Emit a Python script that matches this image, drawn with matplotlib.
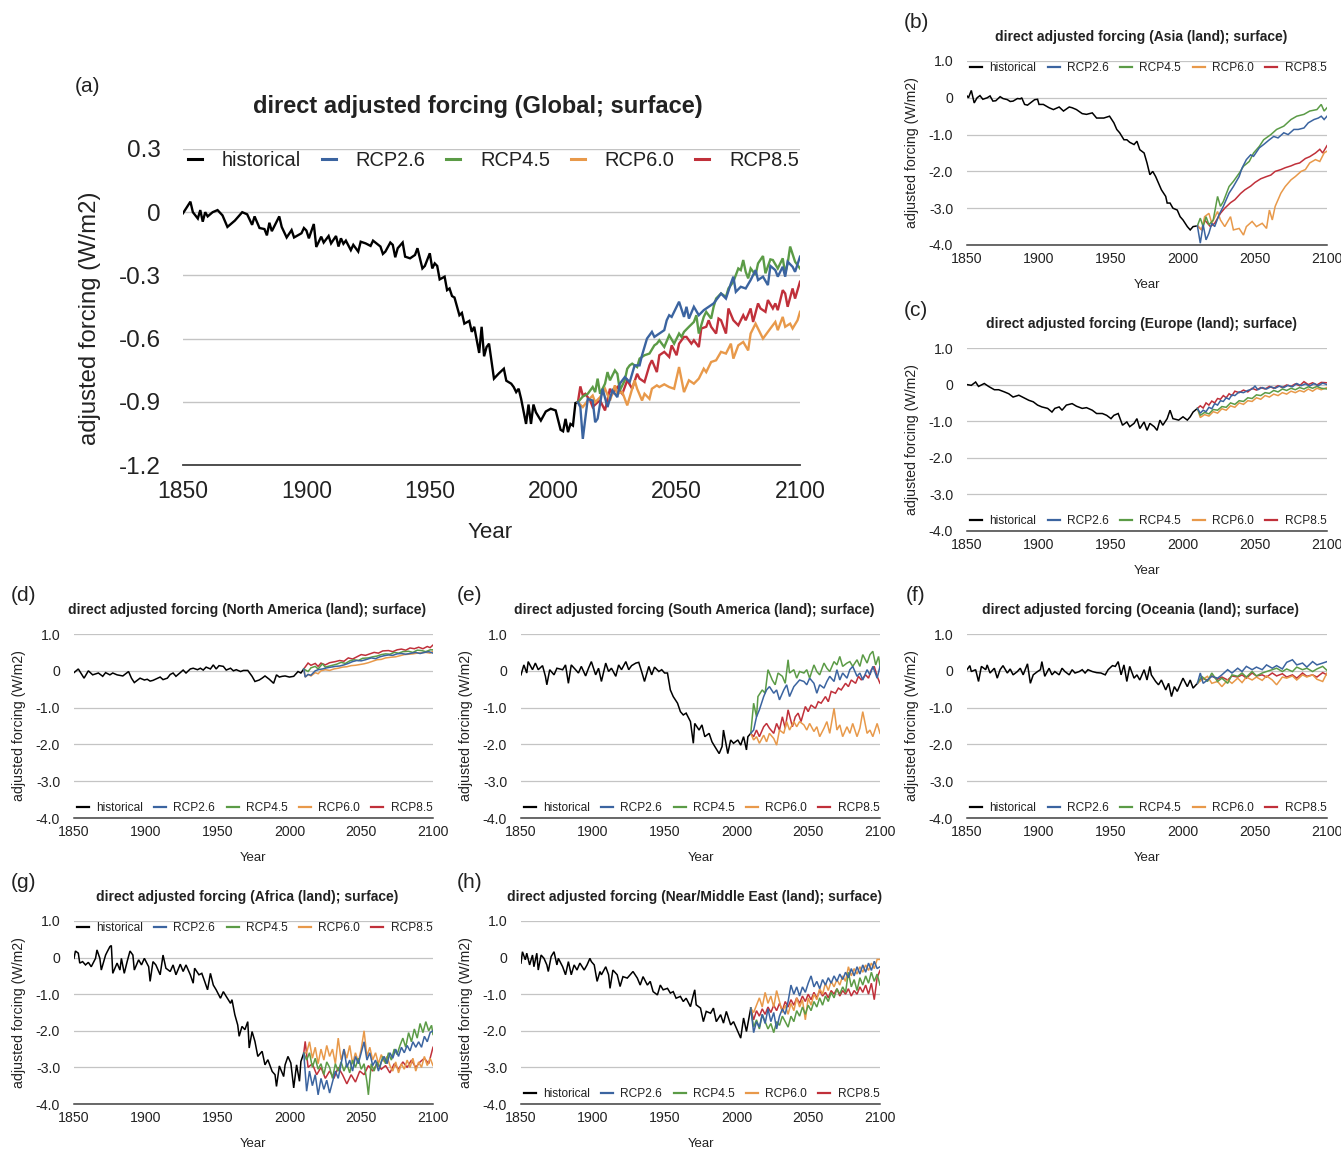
import matplotlib
matplotlib.use("Agg")
import matplotlib.pyplot as plt
from matplotlib.lines import Line2D

plt.rcParams['font.family'] = ['Liberation Sans', 'DejaVu Sans']

# common axis settings
year_ticks = [1850, 1900, 1950, 2000, 2050, 2100]
scenarios = ['historical', 'RCP2.6', 'RCP4.5', 'RCP6.0', 'RCP8.5']
colors = ['#000000', '#3b64a0', '#5b9b46', '#e8994a', '#c0303a']

glob_ticks = [0.3, 0, -0.3, -0.6, -0.9, -1.2]
glob_ticklabels = ['0.3', '0', '-0.3', '-0.6', '-0.9', '-1.2']
land_ticks = [1.0, 0, -1.0, -2.0, -3.0, -4.0]
land_ticklabels = ['1.0', '0', '-1.0', '-2.0', '-3.0', '-4.0']

# ---- (a) Global ----
glob_hist = [(1850, -0.005), (1853, 0.05), (1854, 0.0), (1856, -0.03), (1857, 0.01), (1858, -0.045),
             (1859, 0.0), (1860, -0.02), (1862, 0.0), (1864, 0.01), (1866, -0.015), (1868, -0.07),
             (1871, -0.04), (1874, 0.0), (1876, -0.01), (1878, -0.06), (1879, -0.02), (1881, -0.075),
             (1883, -0.08), (1884, -0.11), (1885, -0.05), (1886, -0.09), (1889, -0.02), (1890, -0.07),
             (1892, -0.12), (1894, -0.085), (1895, -0.12), (1898, -0.10), (1899, -0.075), (1900, -0.087),
             (1901, -0.124), (1903, -0.056), (1904, -0.165), (1906, -0.116), (1907, -0.144), (1909, -0.113),
             (1910, -0.148), (1912, -0.113), (1913, -0.163), (1914, -0.124), (1915, -0.15), (1916, -0.135),
             (1918, -0.18), (1919, -0.155), (1921, -0.187), (1922, -0.14), (1924, -0.148), (1926, -0.16),
             (1927, -0.135), (1930, -0.163), (1931, -0.198), (1932, -0.187), (1934, -0.144), (1935, -0.155),
             (1936, -0.214), (1937, -0.171), (1939, -0.144), (1940, -0.211), (1942, -0.219), (1944, -0.203),
             (1945, -0.171), (1947, -0.267), (1948, -0.255), (1950, -0.195), (1951, -0.267), (1952, -0.243),
             (1953, -0.255), (1954, -0.319), (1956, -0.306), (1957, -0.37), (1958, -0.362), (1959, -0.398),
             (1960, -0.405), (1962, -0.489), (1963, -0.478), (1964, -0.529), (1966, -0.516), (1967, -0.568),
             (1968, -0.544), (1970, -0.668), (1971, -0.544), (1972, -0.684), (1973, -0.64), (1974, -0.624),
             (1976, -0.79), (1978, -0.765), (1980, -0.743), (1981, -0.8), (1983, -0.814), (1984, -0.83),
             (1985, -0.854), (1986, -0.838), (1987, -0.886), (1989, -1.005), (1990, -0.913), (1991, -1.005),
             (1992, -0.913), (1993, -0.95), (1995, -0.989), (1997, -0.946), (1999, -0.933), (2001, -0.941),
             (2003, -1.033), (2004, -1.04), (2005, -0.981), (2006, -1.044), (2007, -1.005), (2008, -1.013),
             (2009, -0.906), (2010, -0.902)]
glob_rcp26 = [(2010, -0.902), (2011, -0.925), (2012, -1.076), (2013, -0.98), (2014, -0.886), (2016, -0.894),
              (2017, -0.997), (2018, -0.98), (2020, -0.838), (2022, -0.925), (2024, -0.846), (2026, -0.878),
              (2027, -0.814), (2029, -0.783), (2031, -0.806), (2033, -0.727), (2035, -0.727), (2036, -0.679),
              (2038, -0.6), (2040, -0.568), (2041, -0.592), (2043, -0.576), (2045, -0.56), (2046, -0.513),
              (2047, -0.489), (2048, -0.497), (2049, -0.473), (2051, -0.425), (2053, -0.497), (2054, -0.449),
              (2055, -0.505), (2057, -0.449), (2059, -0.489), (2061, -0.465), (2063, -0.449), (2065, -0.433),
              (2067, -0.402), (2068, -0.386), (2070, -0.41), (2072, -0.338), (2073, -0.306), (2074, -0.378),
              (2076, -0.354), (2078, -0.362), (2080, -0.322), (2082, -0.275), (2083, -0.322), (2085, -0.306),
              (2087, -0.346), (2088, -0.255), (2090, -0.275), (2091, -0.306), (2093, -0.259), (2094, -0.306),
              (2095, -0.235), (2097, -0.259), (2098, -0.283), (2100, -0.211)]
glob_rcp45 = [(2010, -0.902), (2012, -0.875), (2014, -0.862), (2016, -0.83), (2017, -0.854), (2018, -0.79),
              (2019, -0.862), (2021, -0.814), (2022, -0.759), (2023, -0.798), (2025, -0.751), (2026, -0.767),
              (2027, -0.846), (2029, -0.798), (2030, -0.743), (2031, -0.727), (2032, -0.719), (2034, -0.735),
              (2035, -0.695), (2037, -0.679), (2039, -0.671), (2041, -0.632), (2042, -0.624), (2043, -0.608),
              (2045, -0.64), (2047, -0.584), (2049, -0.624), (2051, -0.576), (2052, -0.592), (2053, -0.568),
              (2055, -0.544), (2057, -0.521), (2058, -0.489), (2059, -0.576), (2061, -0.497), (2062, -0.473),
              (2064, -0.505), (2065, -0.449), (2066, -0.41), (2068, -0.386), (2070, -0.402), (2071, -0.362),
              (2073, -0.33), (2075, -0.267), (2076, -0.275), (2077, -0.227), (2078, -0.283), (2079, -0.314),
              (2080, -0.267), (2082, -0.298), (2083, -0.243), (2085, -0.208), (2086, -0.29), (2088, -0.224),
              (2089, -0.227), (2091, -0.267), (2093, -0.219), (2094, -0.29), (2095, -0.243), (2096, -0.163),
              (2098, -0.235), (2100, -0.267)]
glob_rcp60 = [(2010, -0.902), (2012, -0.925), (2014, -0.894), (2016, -0.87), (2017, -0.902), (2019, -0.878),
              (2021, -0.838), (2023, -0.894), (2025, -0.822), (2026, -0.862), (2028, -0.854), (2030, -0.917),
              (2031, -0.878), (2033, -0.798), (2034, -0.838), (2036, -0.894), (2037, -0.862), (2039, -0.886),
              (2040, -0.838), (2042, -0.822), (2043, -0.83), (2045, -0.817), (2047, -0.83), (2049, -0.838),
              (2051, -0.735), (2053, -0.854), (2055, -0.798), (2057, -0.814), (2059, -0.79), (2061, -0.743),
              (2062, -0.759), (2064, -0.711), (2066, -0.703), (2068, -0.663), (2070, -0.671), (2072, -0.624),
              (2073, -0.695), (2075, -0.632), (2077, -0.616), (2079, -0.656), (2080, -0.576), (2082, -0.529),
              (2085, -0.6), (2087, -0.568), (2088, -0.552), (2090, -0.521), (2091, -0.56), (2093, -0.497),
              (2094, -0.544), (2096, -0.529), (2097, -0.552), (2099, -0.513), (2100, -0.473)]
glob_rcp85 = [(2010, -0.902), (2011, -0.827), (2012, -0.87), (2013, -0.862), (2015, -0.894), (2016, -0.925),
              (2018, -0.902), (2019, -0.894), (2021, -0.941), (2023, -0.838), (2024, -0.862), (2026, -0.83),
              (2028, -0.862), (2030, -0.798), (2032, -0.838), (2034, -0.767), (2035, -0.79), (2037, -0.806),
              (2039, -0.727), (2040, -0.703), (2042, -0.759), (2043, -0.679), (2045, -0.663), (2047, -0.687),
              (2048, -0.632), (2050, -0.679), (2051, -0.624), (2053, -0.592), (2054, -0.592), (2056, -0.624),
              (2057, -0.608), (2059, -0.64), (2060, -0.552), (2062, -0.544), (2063, -0.513), (2064, -0.544),
              (2066, -0.576), (2067, -0.505), (2068, -0.513), (2070, -0.576), (2071, -0.457), (2073, -0.513),
              (2075, -0.537), (2077, -0.489), (2078, -0.513), (2080, -0.457), (2081, -0.521), (2083, -0.433),
              (2084, -0.457), (2086, -0.473), (2087, -0.417), (2089, -0.457), (2090, -0.433), (2091, -0.465),
              (2093, -0.37), (2094, -0.386), (2095, -0.449), (2097, -0.362), (2098, -0.41), (2100, -0.33)]

# ---- (b) Asia ----
asia_hist = [(1850, 0.05), (1851, 0.0), (1853, 0.2), (1855, -0.14), (1857, 0.0), (1859, 0.06), (1861, -0.04),
             (1864, 0.0), (1866, 0.05), (1868, -0.09), (1870, -0.08), (1873, 0.03), (1875, -0.02), (1878, -0.05),
             (1880, -0.1), (1882, -0.09), (1885, -0.02), (1887, -0.03), (1888, 0.0), (1890, -0.18), (1892, -0.2),
             (1894, -0.14), (1897, -0.05), (1899, -0.04), (1900, -0.18), (1903, -0.18), (1907, -0.27),
             (1910, -0.32), (1914, -0.25), (1917, -0.36), (1921, -0.25), (1923, -0.27), (1926, -0.32),
             (1930, -0.43), (1933, -0.45), (1937, -0.41), (1940, -0.55), (1945, -0.55), (1949, -0.5),
             (1952, -0.68), (1954, -0.86), (1956, -0.95), (1959, -1.14), (1961, -1.14), (1963, -1.21),
             (1966, -1.27), (1968, -1.18), (1970, -1.41), (1973, -1.5), (1975, -1.77), (1977, -2.09),
             (1979, -2.0), (1981, -2.14), (1983, -2.32), (1985, -2.5), (1988, -2.68), (1989, -2.86),
             (1991, -2.86), (1993, -3.0), (1996, -3.05), (1998, -3.23), (2000, -3.32), (2003, -3.5),
             (2005, -3.59), (2007, -3.5), (2010, -3.48)]
asia_rcp26 = [(2010, -3.48), (2012, -3.95), (2014, -3.45), (2016, -3.86), (2018, -3.68), (2020, -3.41),
              (2022, -3.5), (2025, -3.18), (2028, -2.95), (2032, -2.59), (2035, -2.41), (2039, -2.14),
              (2041, -1.91), (2044, -1.68), (2047, -1.55), (2049, -1.59), (2053, -1.36), (2056, -1.27),
              (2060, -1.14), (2063, -1.05), (2066, -1.09), (2070, -0.95), (2073, -1.0), (2077, -0.86),
              (2080, -0.86), (2084, -0.82), (2087, -0.68), (2091, -0.59), (2094, -0.55), (2096, -0.5),
              (2098, -0.59), (2100, -0.5)]
asia_rcp45 = [(2010, -3.48), (2012, -3.27), (2014, -3.5), (2016, -3.23), (2018, -3.45), (2021, -3.32),
              (2024, -2.68), (2026, -2.95), (2028, -2.82), (2032, -2.41), (2035, -2.27), (2039, -2.05),
              (2042, -1.86), (2046, -1.73), (2049, -1.5), (2053, -1.32), (2056, -1.14), (2061, -1.0),
              (2065, -0.86), (2070, -0.77), (2075, -0.59), (2079, -0.5), (2084, -0.45), (2088, -0.36),
              (2093, -0.32), (2096, -0.18), (2098, -0.36), (2100, -0.27)]
asia_rcp60 = [(2010, -3.48), (2013, -3.59), (2015, -3.23), (2018, -3.14), (2020, -3.41), (2024, -3.09),
              (2026, -3.32), (2029, -3.5), (2033, -3.23), (2035, -3.59), (2039, -3.55), (2042, -3.73),
              (2044, -3.5), (2048, -3.36), (2051, -3.5), (2055, -3.41), (2058, -3.55), (2060, -3.05),
              (2062, -3.32), (2064, -2.95), (2068, -2.59), (2071, -2.41), (2075, -2.23), (2078, -2.14),
              (2082, -2.0), (2085, -1.95), (2088, -1.77), (2092, -1.68), (2095, -1.73), (2098, -1.5),
              (2100, -1.45)]
asia_rcp85 = [(2010, -3.48), (2013, -3.59), (2015, -3.32), (2019, -3.5), (2022, -3.41), (2026, -3.14),
              (2029, -3.0), (2033, -2.85), (2036, -2.77), (2040, -2.6), (2043, -2.5), (2047, -2.4),
              (2050, -2.3), (2054, -2.2), (2058, -2.14), (2061, -2.1), (2064, -2.0), (2068, -1.95),
              (2071, -1.9), (2075, -1.85), (2078, -1.8), (2081, -1.77), (2085, -1.65), (2088, -1.6),
              (2092, -1.5), (2095, -1.4), (2097, -1.5), (2100, -1.3)]

# ---- (c) Europe ----
eur_hist = [(1850, 0.0), (1853, -0.02), (1856, 0.07), (1858, -0.05), (1862, 0.03), (1865, -0.05),
            (1869, -0.14), (1872, -0.14), (1876, -0.2), (1879, -0.25), (1882, -0.34), (1886, -0.29),
            (1889, -0.35), (1893, -0.43), (1896, -0.47), (1899, -0.56), (1902, -0.61), (1906, -0.65),
            (1909, -0.75), (1911, -0.65), (1914, -0.61), (1916, -0.7), (1919, -0.56), (1923, -0.52),
            (1926, -0.59), (1930, -0.65), (1933, -0.63), (1937, -0.7), (1940, -0.79), (1944, -0.79),
            (1947, -0.84), (1950, -0.93), (1952, -0.84), (1955, -0.79), (1958, -1.11), (1961, -1.02),
            (1963, -1.15), (1966, -1.06), (1968, -0.93), (1970, -1.2), (1973, -1.02), (1975, -1.25),
            (1977, -1.06), (1980, -1.15), (1982, -1.25), (1984, -0.97), (1986, -1.11), (1989, -0.93),
            (1991, -0.7), (1993, -0.93), (1997, -0.97), (2000, -0.88), (2003, -0.97), (2005, -0.88),
            (2007, -0.75), (2010, -0.65)]
eur_rcp26 = [(2010, -0.65), (2012, -0.78), (2014, -0.70), (2016, -0.74), (2018, -0.62), (2020, -0.66),
             (2022, -0.52), (2024, -0.56), (2026, -0.44), (2028, -0.46), (2030, -0.36), (2032, -0.40),
             (2034, -0.28), (2036, -0.30), (2039, -0.20), (2042, -0.22), (2045, -0.16), (2048, -0.12),
             (2050, -0.04), (2052, -0.14), (2055, -0.08), (2058, -0.12), (2061, -0.06), (2064, -0.10),
             (2067, -0.04), (2070, -0.08), (2073, -0.02), (2076, -0.06), (2079, 0.03), (2082, -0.03),
             (2085, 0.02), (2088, -0.04), (2091, 0.03), (2094, -0.03), (2097, 0.04), (2100, 0.0)]
eur_rcp45 = [(2010, -0.65), (2012, -0.84), (2015, -0.76), (2018, -0.80), (2021, -0.68), (2024, -0.70),
             (2027, -0.60), (2030, -0.62), (2033, -0.50), (2036, -0.54), (2039, -0.44), (2042, -0.46),
             (2045, -0.36), (2048, -0.38), (2051, -0.28), (2054, -0.30), (2057, -0.22), (2060, -0.24),
             (2063, -0.16), (2066, -0.20), (2069, -0.12), (2072, -0.16), (2075, -0.10), (2078, -0.14),
             (2081, -0.08), (2084, -0.12), (2087, -0.06), (2090, -0.10), (2093, -0.05), (2096, -0.10),
             (2100, -0.12)]
eur_rcp60 = [(2010, -0.65), (2012, -0.90), (2015, -0.82), (2018, -0.86), (2021, -0.74), (2024, -0.78),
             (2027, -0.66), (2030, -0.70), (2033, -0.58), (2036, -0.62), (2039, -0.50), (2042, -0.54),
             (2045, -0.44), (2048, -0.46), (2051, -0.36), (2054, -0.40), (2057, -0.30), (2060, -0.34),
             (2063, -0.26), (2066, -0.30), (2069, -0.22), (2072, -0.26), (2075, -0.18), (2078, -0.22),
             (2081, -0.16), (2084, -0.20), (2087, -0.12), (2090, -0.18), (2093, -0.10), (2096, -0.14),
             (2100, -0.08)]
eur_rcp85 = [(2010, -0.65), (2012, -0.58), (2014, -0.64), (2016, -0.50), (2018, -0.56), (2020, -0.45),
             (2022, -0.50), (2024, -0.38), (2026, -0.40), (2028, -0.30), (2030, -0.36), (2032, -0.25),
             (2034, -0.30), (2036, -0.18), (2039, -0.22), (2042, -0.15), (2045, -0.20), (2048, -0.10),
             (2051, -0.15), (2054, -0.08), (2057, -0.12), (2060, -0.05), (2063, -0.10), (2066, -0.03),
             (2069, -0.08), (2072, -0.01), (2075, -0.05), (2078, 0.02), (2081, -0.03), (2084, 0.08),
             (2087, 0.0), (2090, 0.05), (2093, -0.01), (2096, 0.06), (2100, 0.05)]

# ---- (d) North America ----
nam_hist = [(1850, -0.05), (1853, 0.05), (1857, -0.2), (1860, 0.0), (1863, -0.11), (1867, -0.06),
            (1870, -0.15), (1872, -0.05), (1875, -0.11), (1877, -0.06), (1880, -0.11), (1884, -0.14),
            (1888, -0.02), (1890, -0.2), (1892, -0.32), (1896, -0.2), (1899, -0.25), (1901, -0.23),
            (1903, -0.28), (1905, -0.26), (1910, -0.17), (1912, -0.24), (1915, -0.2), (1917, -0.1),
            (1919, -0.06), (1921, -0.15), (1924, -0.05), (1926, 0.02), (1928, -0.06), (1931, 0.05),
            (1933, 0.07), (1936, 0.03), (1938, 0.07), (1940, 0.02), (1942, 0.1), (1945, 0.05),
            (1947, 0.16), (1949, 0.05), (1951, 0.14), (1954, 0.12), (1956, 0.02), (1959, 0.07),
            (1961, 0.0), (1963, 0.03), (1966, -0.02), (1968, 0.01), (1971, 0.01), (1974, -0.15),
            (1976, -0.29), (1979, -0.25), (1981, -0.2), (1983, -0.14), (1986, -0.23), (1989, -0.34),
            (1991, -0.11), (1993, -0.17), (1995, -0.15), (1997, -0.14), (2000, -0.17), (2003, -0.15),
            (2006, -0.02), (2008, -0.06), (2010, 0.05)]
nam_rcp26 = [(2010, 0.05), (2011, -0.17), (2013, -0.1), (2015, -0.12), (2018, 0.0), (2020, 0.03),
             (2023, 0.05), (2026, 0.08), (2029, 0.1), (2032, 0.12), (2035, 0.13), (2038, 0.16),
             (2041, 0.2), (2044, 0.25), (2047, 0.28), (2050, 0.27), (2053, 0.3), (2057, 0.35),
             (2060, 0.33), (2063, 0.38), (2066, 0.41), (2069, 0.43), (2072, 0.42), (2075, 0.46),
             (2078, 0.47), (2081, 0.45), (2085, 0.48), (2088, 0.5), (2091, 0.47), (2094, 0.5),
             (2097, 0.52), (2100, 0.48)]
nam_rcp45 = [(2010, 0.05), (2013, -0.02), (2015, 0.08), (2018, 0.12), (2020, 0.05), (2023, 0.19),
             (2025, 0.1), (2027, 0.12), (2030, 0.15), (2033, 0.18), (2036, 0.23), (2039, 0.2),
             (2042, 0.27), (2045, 0.3), (2048, 0.28), (2051, 0.34), (2055, 0.35), (2058, 0.38),
             (2061, 0.4), (2064, 0.44), (2067, 0.46), (2070, 0.45), (2073, 0.5), (2076, 0.48),
             (2079, 0.52), (2083, 0.53), (2086, 0.5), (2089, 0.56), (2092, 0.55), (2095, 0.52),
             (2098, 0.57), (2100, 0.57)]
nam_rcp60 = [(2010, 0.05), (2011, -0.17), (2013, -0.1), (2015, -0.14), (2018, -0.05), (2020, -0.08),
             (2022, 0.0), (2025, 0.03), (2028, 0.01), (2031, 0.05), (2034, 0.07), (2037, 0.1),
             (2040, 0.11), (2043, 0.14), (2046, 0.15), (2049, 0.17), (2052, 0.19), (2055, 0.22),
             (2058, 0.26), (2061, 0.3), (2064, 0.31), (2067, 0.35), (2071, 0.37), (2074, 0.38),
             (2077, 0.41), (2080, 0.44), (2083, 0.45), (2086, 0.46), (2089, 0.48), (2092, 0.49),
             (2095, 0.5), (2098, 0.48), (2100, 0.53)]
nam_rcp85 = [(2010, 0.05), (2013, 0.21), (2015, 0.15), (2018, 0.20), (2020, 0.12), (2022, 0.21),
             (2025, 0.16), (2028, 0.22), (2032, 0.25), (2035, 0.28), (2038, 0.26), (2041, 0.35),
             (2044, 0.32), (2047, 0.38), (2050, 0.44), (2053, 0.42), (2056, 0.46), (2059, 0.5),
             (2062, 0.48), (2065, 0.54), (2069, 0.55), (2072, 0.52), (2075, 0.57), (2078, 0.59),
             (2081, 0.56), (2084, 0.62), (2087, 0.6), (2090, 0.64), (2093, 0.6), (2096, 0.66),
             (2098, 0.63), (2100, 0.7)]

# ---- (e) South America ----
sam_hist = [(1850, -0.11), (1852, 0.16), (1854, -0.06), (1855, 0.25), (1858, 0.03), (1860, 0.21),
            (1862, 0.03), (1865, 0.14), (1867, -0.15), (1868, -0.38), (1870, 0.03), (1873, -0.11),
            (1875, 0.07), (1879, 0.03), (1881, 0.16), (1883, -0.34), (1885, 0.16), (1888, 0.03),
            (1890, -0.06), (1892, 0.12), (1895, -0.14), (1897, 0.07), (1899, 0.25), (1902, -0.11),
            (1904, 0.07), (1906, -0.29), (1909, 0.21), (1911, -0.02), (1913, 0.07), (1916, -0.15),
            (1918, 0.16), (1920, 0.03), (1923, 0.25), (1925, 0.03), (1927, 0.14), (1930, 0.21),
            (1932, 0.23), (1934, -0.02), (1936, -0.29), (1939, 0.12), (1941, -0.11), (1943, 0.1),
            (1946, -0.02), (1948, 0.03), (1950, -0.06), (1952, -0.06), (1954, -0.52), (1956, -0.7),
            (1959, -0.88), (1961, -1.11), (1963, -1.2), (1965, -1.15), (1968, -1.38), (1970, -1.97),
            (1971, -1.43), (1974, -1.61), (1976, -1.47), (1978, -1.79), (1981, -1.7), (1983, -1.93),
            (1985, -2.06), (1988, -2.25), (1990, -2.06), (1991, -1.61), (1994, -2.25), (1996, -1.88),
            (1998, -1.97), (2001, -1.88), (2003, -2.02), (2005, -1.79), (2007, -2.15), (2008, -1.79),
            (2010, -1.7)]
sam_rcp26 = [(2010, -1.7), (2012, -1.61), (2014, -1.25), (2016, -1.06), (2019, -0.7), (2021, -0.52),
             (2023, -0.43), (2026, -0.61), (2028, -0.52), (2030, -0.79), (2033, -0.52), (2035, -0.38),
             (2037, -0.7), (2040, -0.43), (2042, -0.34), (2044, -0.25), (2047, -0.29), (2049, -0.38),
             (2051, -0.2), (2054, -0.34), (2056, -0.61), (2058, -0.38), (2061, -0.47), (2063, -0.29),
             (2065, -0.15), (2068, -0.29), (2070, 0.03), (2072, -0.25), (2074, -0.06), (2077, -0.2),
             (2079, 0.03), (2081, 0.12), (2084, -0.15), (2086, -0.06), (2088, -0.25), (2091, 0.03),
             (2093, -0.11), (2095, 0.12), (2098, -0.2), (2100, 0.12)]
sam_rcp45 = [(2010, -1.7), (2012, -0.88), (2014, -1.25), (2015, -0.7), (2018, -0.52), (2020, -0.61),
             (2022, 0.03), (2025, -0.25), (2027, -0.38), (2029, -0.06), (2032, -0.15), (2034, -0.34),
             (2036, 0.3), (2037, -0.06), (2040, 0.03), (2042, -0.2), (2044, -0.02), (2047, -0.06),
             (2049, 0.03), (2051, -0.2), (2054, 0.16), (2056, -0.02), (2058, -0.11), (2061, 0.21),
             (2063, 0.07), (2065, -0.02), (2068, 0.25), (2070, 0.16), (2072, 0.39), (2074, 0.12),
             (2077, 0.21), (2079, 0.25), (2081, 0.12), (2084, 0.3), (2086, 0.12), (2088, 0.44),
             (2091, 0.21), (2093, 0.44), (2095, 0.53), (2097, 0.16), (2099, 0.39), (2100, 0.12)]
sam_rcp60 = [(2010, -1.7), (2012, -1.88), (2014, -1.79), (2016, -1.97), (2019, -1.75), (2021, -1.93),
             (2023, -1.7), (2026, -1.84), (2028, -2.02), (2030, -1.61), (2033, -1.7), (2035, -1.38),
             (2037, -1.61), (2040, -1.38), (2042, -1.52), (2044, -1.38), (2047, -1.47), (2049, -1.61),
             (2051, -1.43), (2054, -1.65), (2056, -1.52), (2058, -1.79), (2061, -1.56), (2063, -1.38),
             (2065, -1.7), (2068, -1.02), (2070, -1.61), (2072, -1.47), (2074, -1.79), (2077, -1.52),
             (2079, -1.7), (2081, -1.43), (2084, -1.79), (2086, -1.56), (2088, -1.11), (2091, -1.7),
             (2093, -1.61), (2095, -1.79), (2098, -1.43), (2100, -1.7)]
sam_rcp85 = [(2010, -1.7), (2012, -1.79), (2014, -1.61), (2016, -1.79), (2019, -1.52), (2021, -1.43),
             (2023, -1.56), (2026, -1.7), (2028, -1.43), (2030, -1.61), (2032, -1.25), (2034, -1.56),
             (2036, -1.06), (2039, -1.52), (2041, -1.25), (2043, -1.15), (2045, -1.38), (2048, -0.97),
             (2050, -1.11), (2052, -0.93), (2055, -1.02), (2057, -0.84), (2059, -0.88), (2062, -0.7),
             (2064, -0.84), (2066, -0.56), (2069, -0.61), (2071, -0.47), (2073, -0.52), (2076, -0.34),
             (2078, -0.43), (2080, -0.25), (2083, -0.34), (2085, -0.15), (2087, -0.25), (2090, -0.11),
             (2092, -0.2), (2094, 0.03), (2096, 0.12), (2098, -0.15), (2100, -0.34)]

# ---- (f) Oceania ----
oce_hist = [(1850, 0.03), (1852, 0.14), (1853, -0.02), (1856, 0.03), (1858, -0.29), (1860, 0.12),
            (1863, 0.03), (1864, 0.16), (1866, -0.06), (1869, 0.07), (1871, -0.2), (1873, 0.03),
            (1875, 0.14), (1878, -0.06), (1880, 0.05), (1882, -0.11), (1885, -0.02), (1887, 0.07),
            (1889, -0.11), (1892, 0.19), (1894, -0.34), (1896, -0.11), (1899, -0.02), (1901, 0.03),
            (1902, 0.25), (1904, -0.15), (1907, 0.07), (1909, -0.11), (1911, -0.02), (1914, -0.11),
            (1916, 0.07), (1918, -0.02), (1921, -0.11), (1923, 0.03), (1925, -0.06), (1928, -0.02),
            (1930, 0.03), (1932, -0.06), (1934, 0.03), (1937, -0.02), (1940, -0.05), (1943, -0.06),
            (1946, -0.11), (1948, 0.03), (1951, 0.14), (1953, 0.12), (1955, 0.25), (1957, -0.11),
            (1959, 0.16), (1961, -0.29), (1963, 0.12), (1966, -0.2), (1968, -0.11), (1970, -0.25),
            (1973, 0.03), (1975, -0.25), (1977, 0.12), (1978, -0.11), (1981, -0.29), (1983, -0.38),
            (1985, -0.25), (1988, -0.52), (1990, -0.34), (1992, -0.7), (1994, -0.43), (1996, -0.56),
            (1998, -0.38), (2000, -0.2), (2003, -0.43), (2005, -0.25), (2007, -0.47), (2010, -0.34)]
oce_rcp26 = [(2010, -0.34), (2012, -0.06), (2014, -0.34), (2017, -0.25), (2020, -0.15), (2024, -0.2),
             (2027, -0.11), (2031, 0.03), (2034, -0.06), (2038, 0.07), (2041, -0.02), (2044, 0.12),
             (2048, 0.03), (2051, 0.1), (2055, 0.03), (2058, 0.16), (2062, 0.07), (2065, 0.14),
             (2069, 0.05), (2072, 0.23), (2076, 0.3), (2079, 0.16), (2083, 0.21), (2086, 0.1),
             (2090, 0.25), (2093, 0.16), (2097, 0.21), (2100, 0.25)]
oce_rcp45 = [(2010, -0.34), (2013, -0.15), (2017, -0.29), (2020, -0.06), (2024, -0.29), (2027, -0.2),
             (2031, -0.34), (2034, -0.11), (2038, -0.15), (2041, -0.06), (2044, -0.17), (2048, -0.02),
             (2051, -0.14), (2055, -0.06), (2058, -0.02), (2062, 0.03), (2065, 0.07), (2069, -0.02),
             (2072, 0.05), (2076, -0.02), (2079, 0.1), (2083, 0.03), (2086, 0.07), (2090, -0.02),
             (2093, 0.05), (2097, 0.12), (2100, 0.01)]
oce_rcp60 = [(2010, -0.34), (2013, -0.25), (2017, -0.15), (2020, -0.34), (2024, -0.29), (2027, -0.43),
             (2031, -0.25), (2034, -0.34), (2038, -0.2), (2041, -0.32), (2044, -0.17), (2048, -0.25),
             (2051, -0.17), (2055, -0.26), (2058, -0.14), (2062, -0.25), (2065, -0.38), (2069, -0.17),
             (2072, -0.2), (2076, -0.14), (2079, -0.25), (2083, -0.11), (2086, -0.17), (2090, -0.11),
             (2093, -0.23), (2097, -0.29), (2100, -0.06)]
oce_rcp85 = [(2010, -0.34), (2013, -0.2), (2017, -0.25), (2020, -0.14), (2024, -0.23), (2027, -0.17),
             (2031, -0.25), (2034, -0.14), (2038, -0.17), (2041, -0.11), (2044, -0.2), (2048, -0.06),
             (2051, -0.14), (2055, -0.11), (2058, -0.17), (2062, -0.06), (2065, -0.14), (2069, -0.08),
             (2072, -0.17), (2076, -0.11), (2079, -0.2), (2083, -0.06), (2086, -0.15), (2090, -0.11),
             (2093, -0.17), (2097, -0.05), (2100, -0.11)]

# ---- (g) Africa ----
afr_hist = [(1850, -0.02), (1851, 0.18), (1853, 0.12), (1854, -0.15), (1856, -0.11), (1858, -0.2),
            (1860, -0.13), (1862, -0.25), (1865, -0.02), (1866, 0.21), (1868, -0.02), (1869, -0.34),
            (1872, 0.07), (1873, 0.15), (1875, 0.3), (1876, 0.33), (1877, -0.43), (1880, -0.15),
            (1882, -0.34), (1883, -0.02), (1885, -0.43), (1887, -0.11), (1889, 0.18), (1891, 0.07),
            (1892, -0.34), (1895, -0.06), (1897, -0.2), (1899, -0.02), (1902, -0.25), (1903, -0.65),
            (1905, -0.11), (1907, -0.2), (1910, -0.47), (1912, 0.07), (1914, -0.29), (1917, -0.38),
            (1919, -0.2), (1921, -0.47), (1924, -0.18), (1926, -0.38), (1928, -0.2), (1931, -0.47),
            (1933, -0.7), (1934, -0.29), (1937, -0.47), (1939, -0.43), (1941, -0.65), (1943, -0.88),
            (1945, -0.43), (1947, -0.75), (1949, -0.88), (1952, -1.11), (1954, -0.93), (1956, -1.06),
            (1959, -1.25), (1960, -1.15), (1962, -1.56), (1964, -1.84), (1965, -2.15), (1967, -1.88),
            (1969, -1.97), (1971, -1.75), (1972, -2.47), (1974, -2.02), (1976, -2.29), (1978, -2.7),
            (1981, -2.56), (1983, -2.93), (1985, -2.79), (1988, -3.11), (1990, -3.2), (1991, -3.52),
            (1993, -2.96), (1996, -3.25), (1997, -2.93), (1999, -2.7), (2001, -2.88), (2003, -3.56),
            (2005, -2.93), (2007, -3.38), (2008, -2.84), (2010, -2.61)]
afr_rcp26 = [(2010, -2.61), (2012, -3.65), (2014, -3.1), (2016, -3.5), (2018, -3.2), (2020, -3.75),
             (2022, -3.3), (2024, -3.6), (2026, -3.35), (2028, -3.7), (2030, -3.4), (2032, -3.1),
             (2034, -3.3), (2036, -2.9), (2038, -2.5), (2040, -3.0), (2042, -2.8), (2044, -3.1),
             (2046, -2.7), (2048, -2.9), (2050, -2.6), (2052, -2.3), (2054, -2.8), (2056, -2.6),
             (2058, -2.95), (2060, -2.8), (2062, -3.1), (2064, -2.85), (2066, -2.7), (2068, -2.9),
             (2070, -2.6), (2072, -2.75), (2074, -2.5), (2076, -2.7), (2078, -2.45), (2080, -2.6),
             (2082, -2.4), (2084, -2.55), (2086, -2.3), (2088, -2.45), (2090, -2.3), (2092, -2.45),
             (2094, -2.15), (2096, -2.3), (2098, -2.05), (2100, -2.0)]
afr_rcp45 = [(2010, -2.61), (2012, -2.8), (2014, -2.6), (2016, -3.0), (2018, -2.75), (2020, -3.05),
             (2022, -2.9), (2024, -3.2), (2026, -2.85), (2028, -3.0), (2030, -3.3), (2032, -2.9),
             (2034, -3.1), (2036, -2.85), (2038, -3.1), (2040, -2.9), (2042, -3.15), (2044, -2.8),
             (2046, -3.0), (2048, -2.75), (2050, -3.05), (2052, -2.9), (2054, -3.4), (2055, -3.75),
             (2057, -2.9), (2059, -3.1), (2061, -2.85), (2063, -3.0), (2065, -2.7), (2067, -2.9),
             (2069, -2.6), (2071, -2.8), (2073, -2.5), (2075, -2.65), (2077, -2.4), (2079, -2.2),
             (2081, -2.45), (2083, -2.05), (2085, -2.3), (2087, -1.95), (2089, -2.2), (2091, -1.8),
             (2093, -2.05), (2095, -1.75), (2097, -2.0), (2099, -1.85), (2100, -2.1)]
afr_rcp60 = [(2010, -2.61), (2012, -2.6), (2014, -2.3), (2016, -2.75), (2018, -2.45), (2020, -2.9),
             (2022, -2.5), (2024, -2.8), (2026, -2.4), (2028, -2.7), (2030, -2.5), (2032, -2.9),
             (2034, -2.2), (2036, -2.8), (2038, -2.5), (2040, -2.75), (2042, -2.4), (2044, -2.9),
             (2046, -2.6), (2048, -2.85), (2050, -2.5), (2052, -2.0), (2054, -2.7), (2056, -2.45),
             (2058, -2.8), (2060, -2.6), (2062, -2.9), (2064, -2.65), (2066, -2.85), (2068, -2.7),
             (2070, -2.95), (2072, -3.1), (2074, -2.85), (2076, -3.15), (2078, -2.9), (2080, -3.05),
             (2082, -2.8), (2084, -3.0), (2086, -2.75), (2088, -3.1), (2090, -2.85), (2092, -3.0),
             (2094, -2.7), (2096, -2.95), (2098, -2.75), (2100, -2.95)]
afr_rcp85 = [(2010, -2.61), (2011, -2.29), (2013, -3.0), (2016, -2.9), (2019, -3.2), (2022, -3.0),
             (2025, -3.3), (2028, -3.1), (2031, -3.3), (2034, -3.0), (2037, -3.2), (2040, -3.45),
             (2043, -3.2), (2046, -3.4), (2049, -3.1), (2052, -3.2), (2055, -2.95), (2058, -3.1),
             (2061, -2.9), (2064, -3.05), (2067, -2.95), (2070, -3.15), (2073, -2.9), (2076, -3.05),
             (2079, -2.85), (2082, -3.0), (2085, -2.8), (2088, -3.0), (2091, -2.85), (2094, -2.75),
             (2097, -2.9), (2100, -2.45)]

# ---- (h) Near/Middle East ----
nme_hist = [(1850, -0.15), (1851, 0.16), (1853, -0.06), (1854, 0.12), (1856, -0.2), (1858, 0.07),
            (1859, -0.25), (1861, 0.12), (1862, -0.34), (1864, 0.07), (1866, -0.02), (1868, -0.2),
            (1869, -0.38), (1871, 0.03), (1873, 0.16), (1875, -0.2), (1876, -0.02), (1879, -0.25),
            (1881, -0.47), (1883, -0.11), (1885, -0.47), (1887, -0.2), (1889, -0.34), (1891, -0.15),
            (1894, -0.34), (1896, -0.2), (1898, -0.02), (1899, -0.11), (1901, -0.2), (1903, -0.65),
            (1905, -0.38), (1906, -0.47), (1909, -0.25), (1911, -0.47), (1912, -0.84), (1914, -0.34),
            (1917, -0.47), (1919, -0.79), (1921, -0.52), (1924, -0.56), (1926, -0.47), (1928, -0.38),
            (1931, -0.56), (1933, -0.75), (1935, -0.52), (1938, -0.75), (1940, -0.65), (1942, -0.93),
            (1945, -1.02), (1947, -0.75), (1949, -0.88), (1952, -0.84), (1954, -0.97), (1956, -0.93),
            (1958, -1.11), (1961, -1.06), (1963, -1.2), (1965, -1.11), (1968, -1.34), (1970, -1.02),
            (1971, -0.88), (1972, -1.29), (1975, -1.38), (1977, -1.75), (1979, -1.47), (1982, -1.52),
            (1984, -1.38), (1986, -1.75), (1989, -1.56), (1991, -1.79), (1993, -1.47), (1996, -1.84),
            (1998, -1.75), (2000, -1.93), (2003, -2.2), (2005, -1.65), (2007, -2.02), (2010, -1.38)]
nme_rcp26 = [(2010, -1.38), (2012, -2.05), (2014, -1.75), (2016, -1.9), (2018, -1.55), (2020, -1.8),
             (2022, -1.4), (2024, -1.75), (2026, -1.5), (2028, -1.95), (2030, -1.6), (2032, -1.4),
             (2034, -1.55), (2036, -1.2), (2038, -0.75), (2040, -1.0), (2042, -0.8), (2044, -1.05),
             (2046, -0.8), (2048, -0.95), (2050, -0.7), (2052, -0.5), (2054, -0.8), (2056, -0.65),
             (2058, -0.85), (2060, -0.6), (2062, -0.75), (2064, -0.55), (2066, -0.7), (2068, -0.5),
             (2070, -0.65), (2072, -0.45), (2074, -0.6), (2076, -0.4), (2078, -0.55), (2080, -0.3),
             (2082, -0.5), (2084, -0.25), (2086, -0.45), (2088, -0.2), (2090, -0.4), (2092, -0.15),
             (2094, -0.35), (2096, -0.1), (2098, -0.3), (2100, -0.25)]
nme_rcp45 = [(2010, -1.38), (2012, -1.9), (2014, -1.7), (2016, -1.95), (2018, -1.55), (2020, -1.75),
             (2022, -1.95), (2024, -1.8), (2026, -2.05), (2028, -1.75), (2030, -1.85), (2032, -1.6),
             (2034, -1.75), (2036, -1.9), (2038, -1.6), (2040, -1.75), (2042, -1.45), (2044, -1.6),
             (2046, -1.35), (2048, -1.55), (2050, -1.3), (2052, -1.45), (2054, -1.2), (2056, -1.35),
             (2058, -1.1), (2060, -1.3), (2062, -1.05), (2064, -1.2), (2066, -0.95), (2068, -1.1),
             (2070, -0.85), (2072, -1.0), (2074, -0.8), (2076, -0.95), (2078, -0.4), (2080, -0.8),
             (2082, -0.6), (2084, -0.9), (2086, -0.55), (2088, -0.75), (2090, -0.5), (2092, -0.7),
             (2094, -0.4), (2096, -0.65), (2098, -0.45), (2100, -0.75)]
nme_rcp60 = [(2010, -1.38), (2012, -1.5), (2014, -1.3), (2016, -1.1), (2018, -1.35), (2020, -0.95),
             (2022, -1.25), (2024, -1.05), (2026, -1.35), (2028, -0.9), (2030, -1.2), (2032, -1.5),
             (2034, -1.3), (2036, -1.55), (2038, -1.25), (2040, -1.45), (2042, -1.1), (2044, -1.35),
             (2046, -1.15), (2048, -1.7), (2050, -1.1), (2052, -1.3), (2054, -1.0), (2056, -1.15),
             (2058, -0.85), (2060, -1.0), (2062, -0.7), (2064, -0.9), (2066, -0.65), (2068, -0.8),
             (2070, -0.6), (2072, -0.75), (2074, -0.5), (2076, -0.65), (2078, -0.25), (2080, -0.5),
             (2082, -0.3), (2084, -0.45), (2086, -0.25), (2088, -0.4), (2090, -0.2), (2092, -0.35),
             (2094, -0.15), (2096, -0.3), (2098, -0.05), (2100, -0.05)]
nme_rcp85 = [(2010, -1.38), (2012, -1.7), (2014, -1.45), (2016, -1.6), (2018, -1.4), (2020, -1.55),
             (2022, -1.35), (2024, -1.5), (2026, -1.3), (2028, -1.45), (2030, -1.25), (2032, -1.45),
             (2034, -1.2), (2036, -1.35), (2038, -1.15), (2040, -1.3), (2042, -1.1), (2044, -1.25),
             (2046, -1.05), (2048, -1.2), (2050, -1.0), (2052, -1.15), (2054, -0.95), (2056, -1.1),
             (2058, -0.9), (2060, -1.05), (2062, -0.95), (2064, -1.1), (2066, -0.9), (2068, -1.0),
             (2070, -0.85), (2072, -1.05), (2074, -0.9), (2076, -1.0), (2078, -0.85), (2080, -1.05),
             (2082, -0.9), (2084, -1.0), (2086, -0.8), (2088, -0.95), (2090, -0.75), (2092, -1.0),
             (2094, -0.7), (2096, -1.15), (2098, -0.55), (2100, -0.35)]

W, H = 1341, 1151
fig = plt.figure(figsize=(W / 100, H / 100), dpi=100)


def add_ax(left, top, right, bottom):
    # axes placed by pixel edges
    return fig.add_axes([left / W, 1 - bottom / H, (right - left) / W, (bottom - top) / H])


def put(x, y, s, **kw):
    fig.text(x / W, 1 - y / H, s, ha='center', va='center', **kw)


def draw(ax, series, ticks, ticklabels, big, legend_y):
    lw = 1.7 if big else 1.1
    order = [1, 5, 4, 3, 2]
    for (pts, col, z) in zip(series, colors, order):
        xs, ys = zip(*pts)
        ax.plot(xs, ys, color=col, lw=lw, zorder=z, solid_joinstyle='miter')
    ax.set_xlim(1850, 2100)
    ax.set_ylim(ticks[-1], ticks[0])
    ax.set_xticks(year_ticks)
    ax.set_xticklabels([str(y) for y in year_ticks])
    ax.set_yticks(ticks)
    ax.set_yticklabels(ticklabels)
    ax.yaxis.grid(True, color='#c4c4c4', lw=1.0 if big else 0.9)
    ax.set_axisbelow(True)
    for side in ['left', 'right', 'top']:
        ax.spines[side].set_visible(False)
    ax.spines['bottom'].set_color('#404040')
    ax.spines['bottom'].set_linewidth(1.3 if big else 1.1)
    ax.spines['bottom'].set_zorder(6)
    ax.tick_params(axis='both', length=0, colors='#222222')
    ax.tick_params(axis='x', pad=11 if big else 5, labelsize=16.5 if big else 10.2)
    ax.tick_params(axis='y', pad=16 if big else 10, labelsize=17.5 if big else 10.2)
    handles = [Line2D([], [], color=c, lw=2.2 if big else 1.6) for c in colors]
    ax.legend(handles, scenarios, loc='center', ncol=5, mode='expand',
              bbox_to_anchor=(0.008, legend_y - 0.03, 0.99, 0.06), frameon=False,
              fontsize=14.4 if big else 8.6, handlelength=0.7 if big else 1.0,
              handletextpad=1.0 if big else 0.6, borderpad=0, borderaxespad=0,
              columnspacing=0.5, labelcolor='#222222')


# (a) Global panel
ax = add_ax(183, 149, 800, 465)
draw(ax, [glob_hist, glob_rcp26, glob_rcp45, glob_rcp60, glob_rcp85],
     glob_ticks, glob_ticklabels, True, 0.965)
put(478, 107, 'direct adjusted forcing (Global; surface)', fontsize=17, fontweight='bold', color='#222222')
put(90, 318, 'adjusted forcing (W/m2)', fontsize=17.2, rotation=90, color='#222222')
put(490, 533, 'Year', fontsize=16, color='#222222')
put(88, 87, '(a)', fontsize=15, color='#222222')

# regional panels: pixel box, title, data, legend row, panel letter
regions = [
    ((967, 61, 1327, 245), 'Asia (land)', [asia_hist, asia_rcp26, asia_rcp45, asia_rcp60, asia_rcp85], 0.962, '(b)'),
    ((967, 348, 1327, 531), 'Europe (land)', [eur_hist, eur_rcp26, eur_rcp45, eur_rcp60, eur_rcp85], 0.055, '(c)'),
    ((74, 634, 433, 818), 'North America (land)', [nam_hist, nam_rcp26, nam_rcp45, nam_rcp60, nam_rcp85], 0.055, '(d)'),
    ((521, 634, 880, 818), 'South America (land)', [sam_hist, sam_rcp26, sam_rcp45, sam_rcp60, sam_rcp85], 0.055, '(e)'),
    ((967, 634, 1327, 818), 'Oceania (land)', [oce_hist, oce_rcp26, oce_rcp45, oce_rcp60, oce_rcp85], 0.055, '(f)'),
    ((74, 921, 433, 1104), 'Africa (land)', [afr_hist, afr_rcp26, afr_rcp45, afr_rcp60, afr_rcp85], 0.962, '(g)'),
    ((521, 921, 880, 1104), 'Near/Middle East (land)', [nme_hist, nme_rcp26, nme_rcp45, nme_rcp60, nme_rcp85], 0.055, '(h)'),
]

for (box, name, series, ly, letter) in regions:
    l, t, r, b = box
    ax = add_ax(l, t, r, b)
    draw(ax, series, land_ticks, land_ticklabels, False, ly)
    cx = (l + r) / 2
    put(cx - 6, t - 24, 'direct adjusted forcing (%s; surface)' % name, fontsize=10,
        fontweight='bold', color='#222222')
    put(l - 55, (t + b) / 2, 'adjusted forcing (W/m2)', fontsize=10.2, rotation=90, color='#222222')
    put(cx, b + 40, 'Year', fontsize=9.5, color='#222222')
    put(l - 51, t - 38, letter, fontsize=15, color='#222222')

fig.savefig('out.png', dpi=100, facecolor='white')
